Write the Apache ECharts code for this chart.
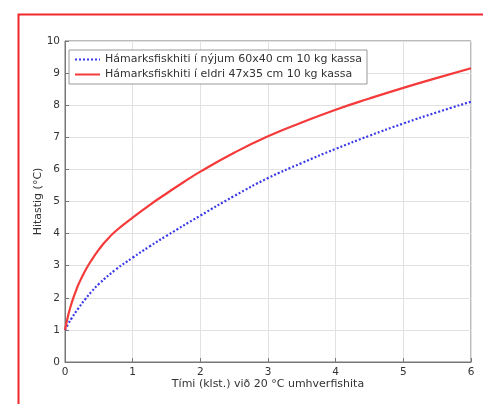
<!DOCTYPE html>
<html>
<head>
<meta charset="utf-8">
<script src="https://cdn.jsdelivr.net/npm/echarts@6/dist/echarts.min.js"></script>
<style>html,body{margin:0;padding:0;background:#fff;}#c{width:483px;height:404px;}</style>
</head>
<body>
<div id="c"></div>
<script>
var seriesNames = ['Hámarksfiskhiti í nýjum 60x40 cm 10 kg kassa', 'Hámarksfiskhiti í eldri 47x35 cm 10 kg kassa'];
var blueT = [0,0.05,0.1,0.2,0.3,0.4,0.5,0.75,1,1.25,1.5,2,2.5,3,3.5,4,4.5,5,5.5,6];
var blueV = [1,1.2,1.37,1.68,1.96,2.21,2.43,2.88,3.25,3.6,3.93,4.56,5.17,5.73,6.2,6.64,7.05,7.43,7.78,8.11];
var redT = [0,0.05,0.1,0.15,0.2,0.3,0.4,0.5,0.6,0.75,1,1.25,1.5,1.75,2,2.5,3,3.5,4,4.5,5,5.5,6];
var redV = [1,1.48,1.85,2.15,2.42,2.85,3.2,3.5,3.76,4.08,4.5,4.89,5.25,5.6,5.93,6.52,7.03,7.46,7.86,8.21,8.54,8.85,9.15];
var xTitle = 'Tími (klst.) við 20 °C umhverfishita';
var yTitle = 'Hitastig (°C)';

function pairs(t, v){ return t.map(function(x,i){ return [x, v[i]]; }); }

var chart = echarts.init(document.getElementById('c'), null, {renderer:'canvas'});
var font = 'DejaVu Sans';
chart.setOption({
  animation: false,
  backgroundColor: '#fff',
  textStyle: {fontFamily: font},
  graphic: [{
    type: 'rect', left: 16, top: 12, shape: {width: 520, height: 420},
    style: {fill: 'none', stroke: '#f0282d', lineWidth: 2}, z: 100
  }],
  grid: {left: 65, right: 12, top: 41, bottom: 42, show: true, borderColor: '#777', borderWidth: 1},
  legend: {
    orient: 'vertical', left: 69, top: 50, itemGap: 4, itemWidth: 25, itemHeight: 10,
    backgroundColor: '#fff', borderColor: '#999', borderWidth: 1, padding: [4, 5, 4, 5],
    itemStyle: {opacity: 0},
    textStyle: {fontSize: 11, color: '#333', fontFamily: font},
    data: seriesNames
  },
  xAxis: {
    type: 'value', min: 0, max: 6, interval: 1,
    name: xTitle, nameLocation: 'middle', nameGap: 17, nameMoveOverlap: false,
    nameTextStyle: {fontSize: 11, color: '#333', fontFamily: font},
    axisLine: {show: true, lineStyle: {color: '#777'}},
    axisTick: {inside: true, length: 4, lineStyle: {color: '#777'}},
    axisLabel: {fontSize: 10.5, color: '#333', margin: 5, fontFamily: font},
    splitLine: {show: true, lineStyle: {color: '#e2e2e2'}}
  },
  yAxis: {
    type: 'value', min: 0, max: 10, interval: 1,
    name: yTitle, nameLocation: 'middle', nameGap: 21, nameMoveOverlap: false,
    nameTextStyle: {fontSize: 11, color: '#333', fontFamily: font},
    axisLine: {show: true, lineStyle: {color: '#777'}},
    axisTick: {show: true, inside: true, length: 4, lineStyle: {color: '#777'}},
    axisLabel: {fontSize: 10.5, color: '#333', margin: 5, fontFamily: font},
    splitLine: {show: true, lineStyle: {color: '#e2e2e2'}}
  },
  series: [
    {name: seriesNames[0], type: 'line', data: pairs(blueT, blueV), smooth: true, symbol: 'none',
     lineStyle: {color: '#3a3ae8', width: 2.2, type: [2, 2]}, itemStyle: {color: '#3a3ae8'}},
    {name: seriesNames[1], type: 'line', data: pairs(redT, redV), smooth: true, symbol: 'none',
     lineStyle: {color: '#f53a3a', width: 2.2}, itemStyle: {color: '#f53a3a'}}
  ]
});
</script>
</body>
</html>
